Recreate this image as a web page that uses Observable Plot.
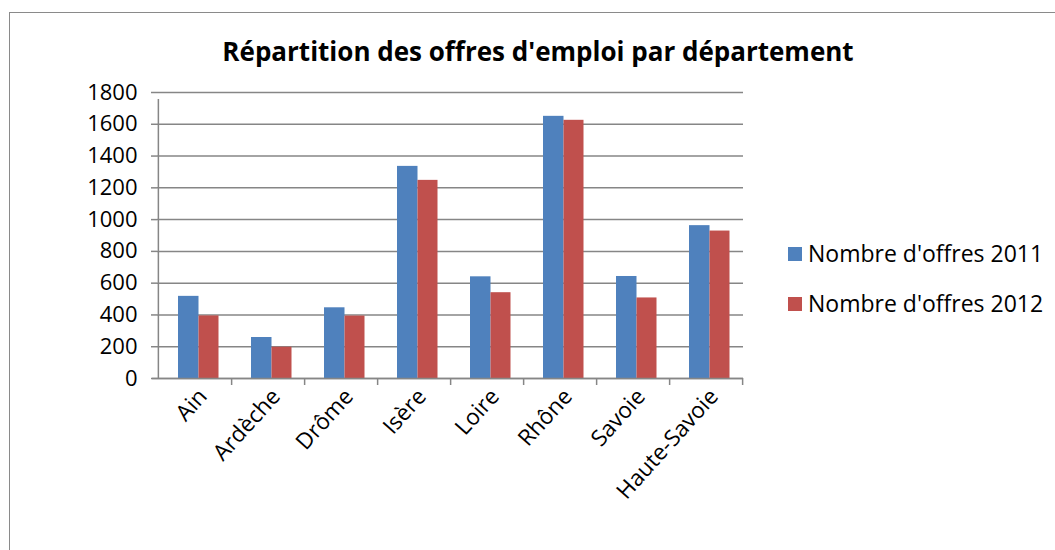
<!DOCTYPE html>
<html>
<head>
<meta charset="utf-8">
<script src="https://cdn.jsdelivr.net/npm/d3@7"></script>
<script src="https://cdn.jsdelivr.net/npm/@observablehq/plot@0.6"></script>
<style>
  html, body { margin: 0; padding: 0; background: #fff; }
  #wrap { position: relative; width: 1055px; height: 550px; overflow: hidden; font-family: "Open Sans", sans-serif; }
  #border { position: absolute; left: 9px; top: 12px; right: -10px; bottom: -10px; border-top: 1.5px solid #8a8a8a; border-left: 1.5px solid #8a8a8a; }
  #title { position: absolute; left: 0; width: 1076px; top: 33px; text-align: center; font-weight: bold; font-size: 26px; color: #000; white-space: nowrap; }
  .leg { position: absolute; left: 788px; font-size: 23px; color: #000; white-space: nowrap; line-height: 1; }
  .leg span.sw { position: absolute; left: 0; top: 0; width: 14px; height: 14px; }
  .leg span.tx { position: absolute; left: 20px; top: -5px; }
  #chart { position: absolute; left: 0; top: 0; }
</style>
</head>
<body>
<div id="wrap">
  <div id="border"></div>
  <div id="chart"></div>
  <div id="title">Répartition des offres d'emploi par département</div>
  <div class="leg" style="top:247px"><span class="sw" style="background:#4F81BD"></span><span class="tx">Nombre d'offres 2011</span></div>
  <div class="leg" style="top:297px"><span class="sw" style="background:#C0504D"></span><span class="tx">Nombre d'offres 2012</span></div>
</div>
<script>
const departements = ["Ain", "Ardèche", "Drôme", "Isère", "Loire", "Rhône", "Savoie", "Haute-Savoie"];
const offres2011 = [517, 258, 445, 1335, 640, 1650, 642, 962];
const offres2012 = [394, 197, 393, 1247, 540, 1625, 507, 928];
const yTicks = [0, 200, 400, 600, 800, 1000, 1200, 1400, 1600, 1800];

const data2011 = departements.map((d, i) => ({dep: d, v: offres2011[i]}));
const data2012 = departements.map((d, i) => ({dep: d, v: offres2012[i]}));

const grey = "#868686";
const W = 1055, ML = 157, MR = 312;
const halfBand = (W - ML - MR) / departements.length / 2;

const chart = Plot.plot({
  width: W,
  height: 550,
  marginLeft: ML,
  marginRight: MR,
  marginTop: 92,
  marginBottom: 172,
  style: {fontFamily: "Open Sans, sans-serif", fontSize: "22px", background: "transparent", color: "#000"},
  x: {domain: departements, padding: 0},
  y: {domain: [0, 1800], ticks: yTicks, tickFormat: d => String(d)},
  marks: [
    Plot.gridY(yTicks, {stroke: grey, strokeOpacity: 1, strokeWidth: 1.5}),
    Plot.axisY(yTicks, {tickSize: 6, tickPadding: 14, fontSize: 22, tickFormat: d => String(d), label: null, stroke: grey, strokeOpacity: 1, strokeWidth: 1.5, fill: "#000"}),
    Plot.barY(data2011, {x: "dep", y: "v", fill: "#4F81BD", insetLeft: 20, insetRight: 32.5}),
    Plot.barY(data2012, {x: "dep", y: "v", fill: "#C0504D", insetLeft: 40.5, insetRight: 12.5}),
    // x axis line
    Plot.ruleY([0], {stroke: grey, strokeWidth: 1.5, insetLeft: -5}),
    // left axis line
    Plot.ruleX([departements[0]], {x: d => d, y1: 0, y2: 1800, dx: -halfBand, stroke: grey, strokeWidth: 1.5, insetBottom: -7}),
    // category boundary ticks
    Plot.ruleX(departements, {x: d => d, y1: 0, y2: 0, dx: halfBand, stroke: grey, strokeWidth: 1.5, insetBottom: -7}),
    Plot.axisX({tickSize: 0, tickPadding: 14, tickRotate: -48, fontSize: 22.5, label: null, dx: 8, fill: "#000"})
  ]
});
document.getElementById("chart").appendChild(chart);
</script>
</body>
</html>
